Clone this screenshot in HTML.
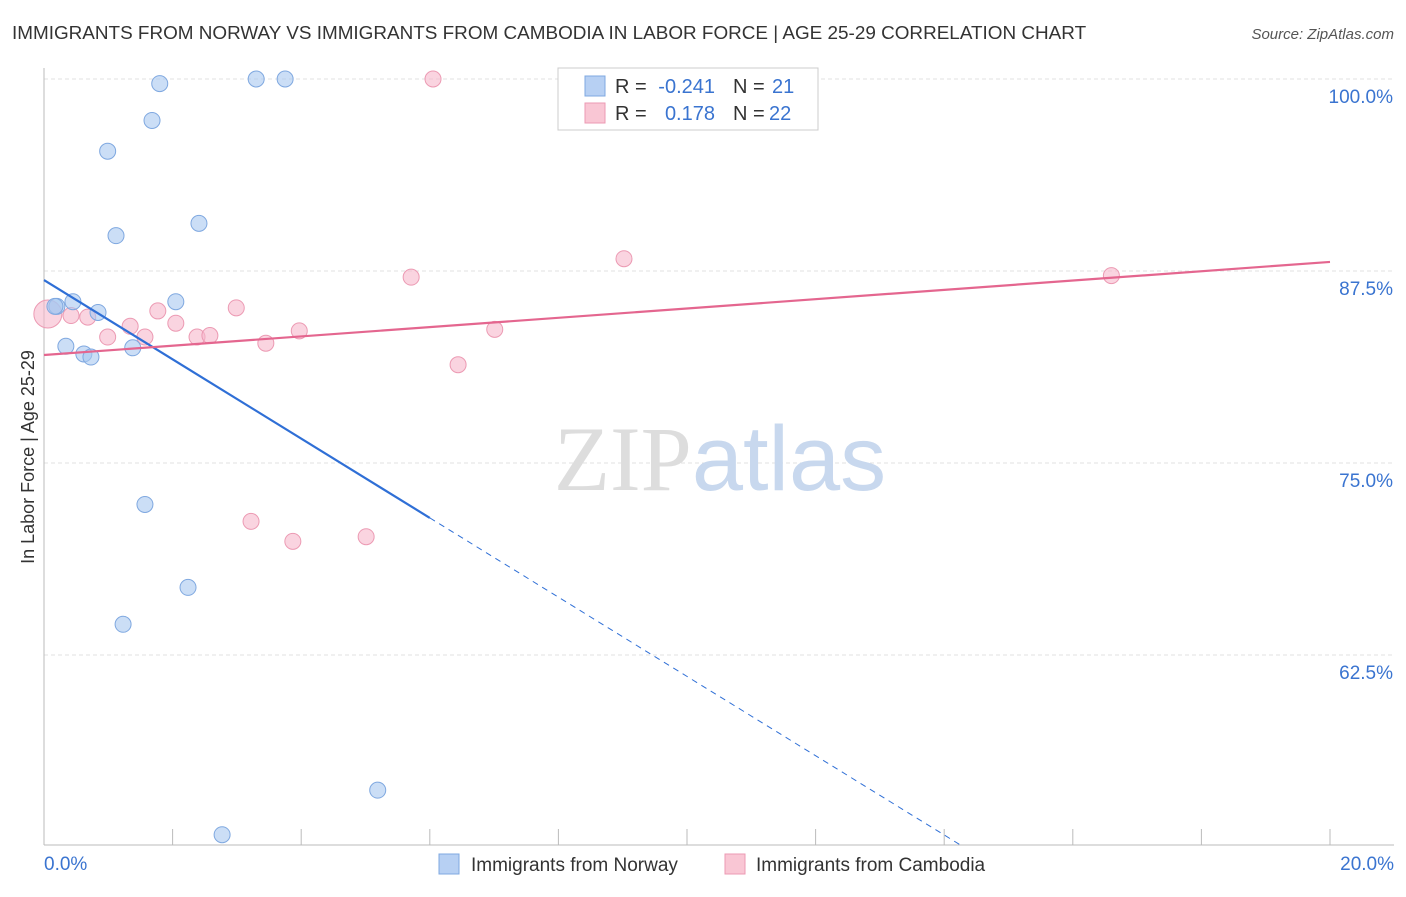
<!DOCTYPE html>
<html><head><meta charset="utf-8"><style>
body{margin:0;background:#fff;font-family:"Liberation Sans",sans-serif}
</style></head><body>
<svg id="chart" width="1406" height="892" xmlns="http://www.w3.org/2000/svg" font-family="Liberation Sans, sans-serif">
<text x="12" y="39" font-size="18.9" fill="#333">IMMIGRANTS FROM NORWAY VS IMMIGRANTS FROM CAMBODIA IN LABOR FORCE | AGE 25-29 CORRELATION CHART</text>
<text x="1394" y="39" font-size="15" fill="#555" text-anchor="end" font-style="italic">Source: ZipAtlas.com</text>
<g id="grid"></g>
<text x="720" y="490" font-size="92" text-anchor="middle"><tspan fill="#ddd" font-family="Liberation Serif, serif">ZIP</tspan><tspan fill="#c8d8ee">atlas</tspan></text>
<text transform="translate(34,457) rotate(-90)" font-size="18" fill="#333" text-anchor="middle">In Labor Force | Age 25-29</text>
<g id="marks"></g>
<g font-size="20">
<rect x="558" y="68" width="260" height="62" fill="#fff" stroke="#ccc"/>
<rect x="585" y="76" width="20" height="20" fill="#b7d0f3" stroke="#7fa8e0"/>
<rect x="585" y="103" width="20" height="20" fill="#f9c6d4" stroke="#ec9ab3"/>
<text x="615" y="93" fill="#333">R =</text>
<text x="715" y="93" fill="#3a74d0" text-anchor="end">-0.241</text>
<text x="733" y="93" fill="#333">N =</text>
<text x="772" y="93" fill="#3a74d0">21</text>
<text x="615" y="120" fill="#333">R =</text>
<text x="715" y="120" fill="#3a74d0" text-anchor="end">0.178</text>
<text x="733" y="120" fill="#333">N =</text>
<text x="769" y="120" fill="#3a74d0">22</text>
</g>
<g>
<rect x="439" y="854" width="20" height="20" fill="#b7d0f3" stroke="#7fa8e0"/>
<text x="471" y="871" font-size="19" fill="#333">Immigrants from Norway</text>
<rect x="725" y="854" width="20" height="20" fill="#f9c6d4" stroke="#ec9ab3"/>
<text x="756" y="871" font-size="19" fill="#333">Immigrants from Cambodia</text>
</g>
</svg>
<script>
const yTicks=[100,87.5,75,62.5];
const yTickLabels=["100.0%","87.5%","75.0%","62.5%"];
const xTickLabels=["0.0%","20.0%"];
const norwayX=[1.8,3.3,3.75,1.68,0.99,1.12,2.41,0.2,0.45,0.84,2.05,0.34,0.62,0.73,1.38,1.57,2.24,1.23,5.19,2.77,0.17];
const norwayY=[99.7,100,100,97.3,95.3,89.8,90.6,85.2,85.5,84.8,85.5,82.6,82.1,81.9,82.5,72.3,66.9,64.5,53.7,50.8,85.2];
const cambodiaX=[6.05,9.02,5.71,16.6,2.99,1.77,0.42,0.68,2.05,1.34,0.99,1.57,2.38,2.58,3.97,7.01,3.45,6.44,3.22,3.87,5.01,0.06];
const cambodiaY=[100,88.3,87.1,87.2,85.1,84.9,84.6,84.5,84.1,83.9,83.2,83.2,83.2,83.3,83.6,83.7,82.8,81.4,71.2,69.9,70.2,84.7];
const norwayTrend=[86.91,35.3];
const cambodiaTrend=[82.03,88.09];
const NS="http://www.w3.org/2000/svg";
const X=v=>44+v/20*1286, Y=v=>79+(100-v)/12.5*192;
function mk(t,a,p){const e=document.createElementNS(NS,t);for(const k in a)e.setAttribute(k,a[k]);p.appendChild(e);return e;}
const g=document.getElementById('grid'),m=document.getElementById('marks');
yTicks.forEach((v,i)=>{
 const l=mk('line',{x1:44,x2:1394,y1:Y(v),y2:Y(v),stroke:'#e2e2e2','stroke-dasharray':'4,3'},g);
 
 
 const t=mk('text',{x:1393,y:Y(v)+24,'font-size':19,fill:'#3a74d0','text-anchor':'end'},g);t.textContent=yTickLabels[i];
 
 
});
mk('line',{x1:44,x2:44,y1:68,y2:845,stroke:'#bbb'},g);
mk('line',{x1:44,x2:1394,y1:845,y2:845,stroke:'#bbb'},g);
for(let i=0;i<=10;i++){const l=mk('line',{x1:X(i*2),x2:X(i*2),y1:829,y2:845,stroke:'#bbb'},g);
 
 }
[[0,44,'start'],[20,1394,'end']].forEach((d,i)=>{const t=mk('text',{x:d[1],y:870,'font-size':19,fill:'#3a74d0','text-anchor':d[2]},g);t.textContent=xTickLabels[i];
 
 });
function pts(xs,ys,fill,stroke,name){xs.forEach((x,i)=>{const r=(name==='cambodia-point'&&i===xs.length-1)?14:8;
 const c=mk('circle',{cx:X(x),cy:Y(ys[i]),r:r,fill:fill,stroke:stroke,'fill-opacity':0.6},m);
 
 });}
pts(cambodiaX,cambodiaY,'#f7b8cb','#ec9ab3','cambodia-point');
pts(norwayX,norwayY,'#a9c8f0','#7fa8e0','norway-point');
const ny=x=>norwayTrend[0]+(norwayTrend[1]-norwayTrend[0])*x/20;
let l=mk('line',{x1:X(0),y1:Y(ny(0)),x2:X(6),y2:Y(ny(6)),stroke:'#2f6fd6','stroke-width':2.2},m);


const xe=(norwayTrend[0]-50.1)/(norwayTrend[0]-norwayTrend[1])*20;
l=mk('line',{x1:X(6),y1:Y(ny(6)),x2:X(xe),y2:Y(ny(xe)),stroke:'#2f6fd6','stroke-width':1,'stroke-dasharray':'6,5'},m);


l=mk('line',{x1:X(0),y1:Y(cambodiaTrend[0]),x2:X(20),y2:Y(cambodiaTrend[1]),stroke:'#e4668f','stroke-width':2.2},m);


</script>
</body></html>
